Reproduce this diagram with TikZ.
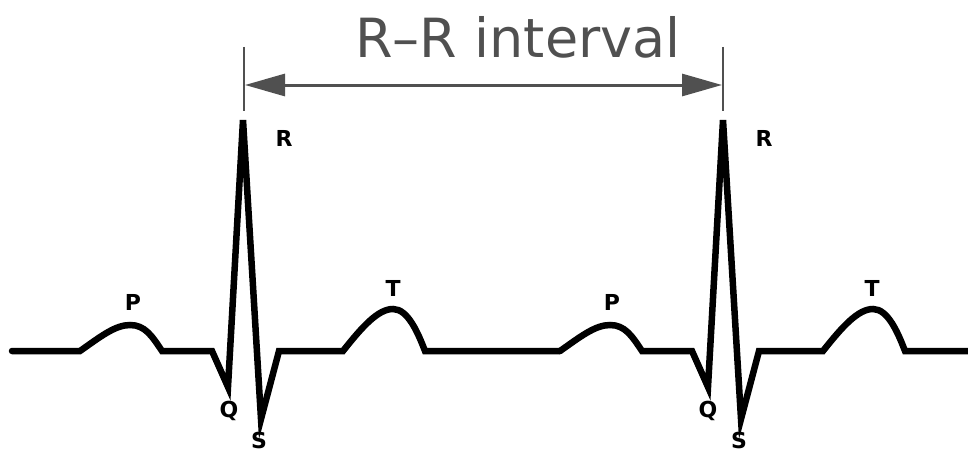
\documentclass[tikz,border=0pt]{standalone}
\usepackage{fontspec}
\setmainfont{DejaVu Sans}
\usetikzlibrary{arrows.meta}
\definecolor{dim}{HTML}{505050}
\tikzset{
  trace/.style={line width=6.5pt, line join=miter, line cap=round},
  wavelbl/.style={font=\bfseries\fontsize{22}{22}\selectfont, inner sep=0pt},
  guide/.style={draw=dim, line width=2pt},
  span/.style={draw=dim, line width=3pt, {Triangle[length=40pt,width=22pt]}-{Triangle[length=40pt,width=22pt]}}
}
\begin{document}
\begin{tikzpicture}[x=1pt,y=-1pt]
\useasboundingbox (0,0) rectangle (968,452);
% first beat
\draw[trace] (12,351) -- (80,351)
  .. controls (100,337) and (115,325) .. (130,325)
  .. controls (145,325) and (152,336) .. (162,351)
  -- (212,351) -- (228,387) -- (243,120) -- (261,419) -- (279,351) -- (343,351)
  .. controls (362,327) and (378,309) .. (393,309)
  .. controls (408,309) and (418,333) .. (425,351)
  -- (560,351);
% second beat
\begin{scope}[xshift=480pt]
\draw[trace] (80,351)
  .. controls (100,337) and (115,325) .. (130,325)
  .. controls (145,325) and (152,336) .. (162,351)
  -- (212,351) -- (228,387) -- (243,120) -- (261,419) -- (279,351) -- (343,351)
  .. controls (362,327) and (378,309) .. (393,309)
  .. controls (408,309) and (418,333) .. (425,351)
  -- (488,351);
\end{scope}
% labels
\node[wavelbl] (p1) at (133,302) {P};
\node[wavelbl] (q1) at (229,411) {Q};
\node[wavelbl] (r1) at (284,138) {R};
\node[wavelbl] (s1) at (259,440) {S};
\node[wavelbl] (t1) at (393,288) {T};
\node[wavelbl] (p2) at (612,302) {P};
\node[wavelbl] (q2) at (708,411) {Q};
\node[wavelbl] (r2) at (764,138) {R};
\node[wavelbl] (s2) at (739,440) {S};
\node[wavelbl] (t2) at (872,288) {T};
% R-R interval
\coordinate (la) at (244,47);
\coordinate (lb) at (244,111);
\coordinate (ra) at (723,47);
\coordinate (rb) at (723,111);
\coordinate (al) at (245,85);
\coordinate (ar) at (722,85);
\draw[guide] (la) -- (lb);
\draw[guide] (ra) -- (rb);
\draw[span] (al) -- (ar);
\node[text=dim, font=\fontsize{54}{54}\selectfont, inner sep=0pt, anchor=base] (title) at (518,57) {R–R interval};
\end{tikzpicture}
\end{document}
